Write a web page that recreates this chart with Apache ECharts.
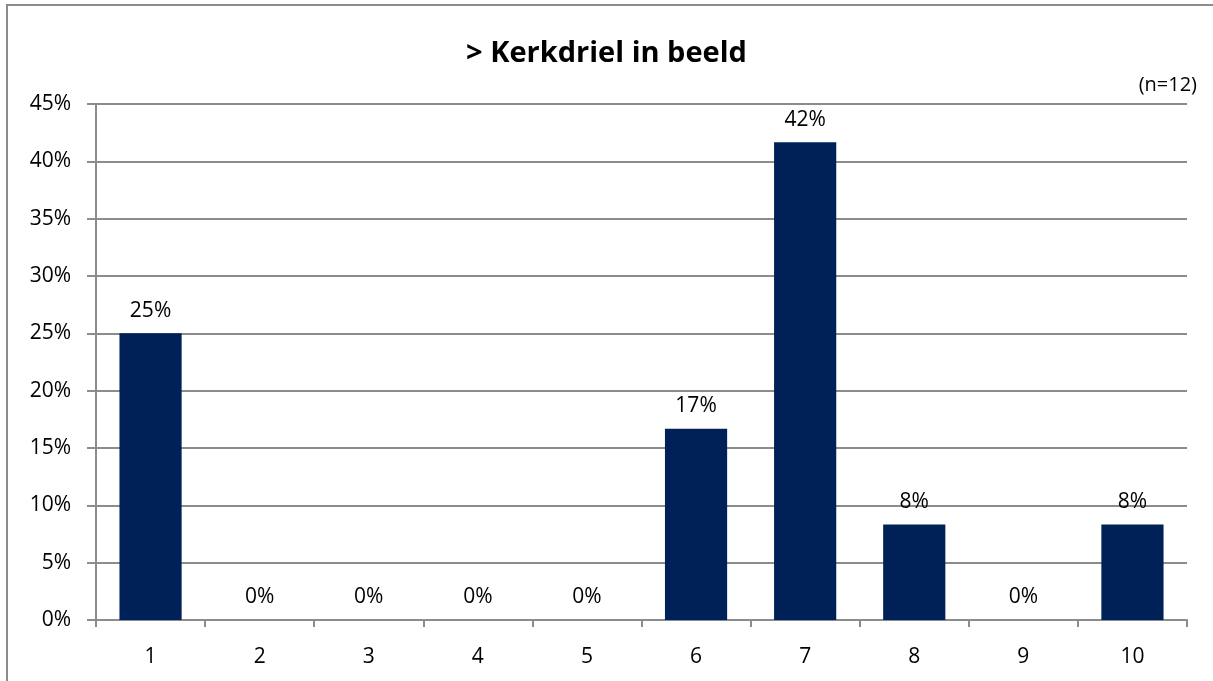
<!DOCTYPE html>
<html>
<head>
<meta charset="utf-8">
<script src="https://cdn.jsdelivr.net/npm/echarts@6/dist/echarts.min.js"></script>
<style>
  html, body { margin: 0; padding: 0; background: #fff; }
  #chart { width: 1213px; height: 681px; }
</style>
</head>
<body>
<div id="chart"></div>
<script>
const categories = ['1', '2', '3', '4', '5', '6', '7', '8', '9', '10']
const shares = [25, 0, 0, 0, 0, 16.67, 41.67, 8.33, 0, 8.33]
const titleText = '> Kerkdriel in beeld'
const noteText = '(n=12)'

const font = '"Open Sans", "Liberation Sans", sans-serif'
const chart = echarts.init(document.getElementById('chart'))

chart.setOption({
  animation: false,
  textStyle: { fontFamily: font },
  title: {
    text: titleText,
    left: 'center',
    top: 34,
    textStyle: { fontSize: 29, fontWeight: 'bold', color: '#000', fontFamily: font }
  },
  graphic: [
    {
      type: 'rect',
      shape: { x: 7, y: 5, width: 1230, height: 700 },
      style: { fill: 'none', stroke: '#8c8c8c', lineWidth: 2 }
    },
    {
      type: 'text',
      right: 16,
      top: 75,
      style: { text: noteText, fontSize: 20, fill: '#000', fontFamily: font }
    }
  ],
  grid: { left: 96, right: 26, top: 104, bottom: 61 },
  xAxis: {
    type: 'category',
    data: categories,
    axisLine: { lineStyle: { color: '#8c8c8c', width: 2 } },
    axisTick: { show: true, length: 7, lineStyle: { color: '#8c8c8c', width: 2 } },
    axisLabel: { color: '#000', fontSize: 21, margin: 27 }
  },
  yAxis: {
    type: 'value',
    min: 0,
    max: 45,
    interval: 5,
    axisLine: { show: true, lineStyle: { color: '#8c8c8c', width: 2 } },
    axisTick: { show: true, length: 9, lineStyle: { color: '#8c8c8c', width: 2 } },
    splitLine: { lineStyle: { color: '#8c8c8c', width: 2 } },
    axisLabel: { color: '#000', fontSize: 21, margin: 25, formatter: '{value}%' }
  },
  series: [{
    type: 'bar',
    data: shares,
    barWidth: '57%',
    itemStyle: { color: '#002157' },
    label: {
      show: true,
      position: 'top',
      distance: 12,
      color: '#000',
      fontSize: 21,
      formatter: p => Math.round(p.value) + '%'
    }
  }]
})
</script>
</body>
</html>
